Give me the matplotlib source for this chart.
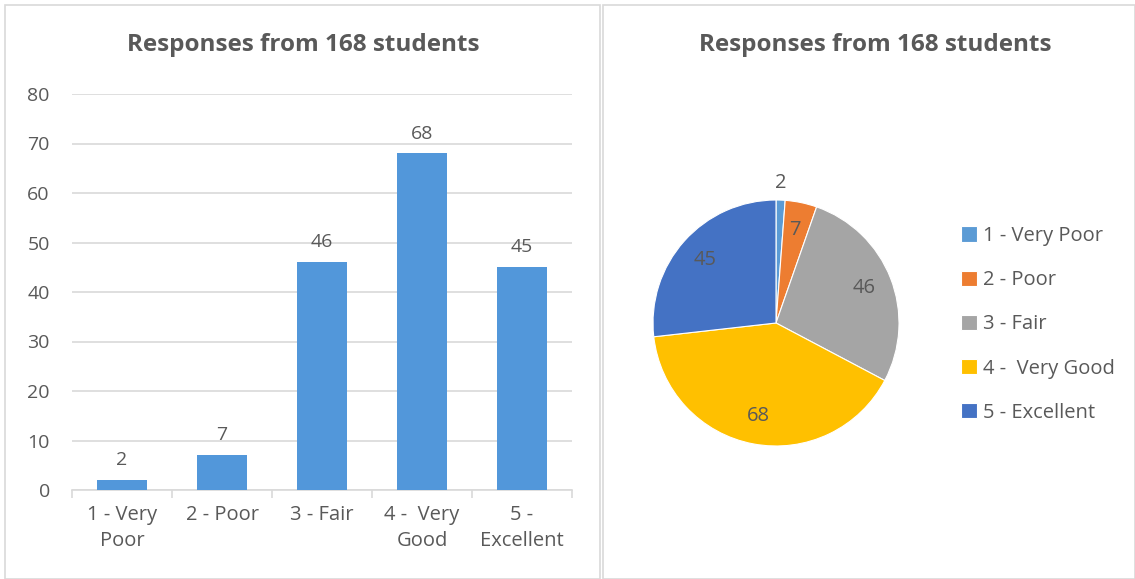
import matplotlib
matplotlib.use("Agg")
import matplotlib.pyplot as plt
from matplotlib.patches import Rectangle
import numpy as np

# data
categories = ["1 - Very Poor", "2 - Poor", "3 - Fair", "4 -  Very Good", "5 - Excellent"]
tick_labels = ["1 - Very\nPoor", "2 - Poor", "3 - Fair", "4 -  Very\nGood", "5 -\nExcellent"]
responses = [2, 7, 46, 68, 45]
title = "Responses from 168 students"

plt.rcParams['font.family'] = ['Open Sans', 'DejaVu Sans']
txt = "#595959"
pie_colors = ["#5B9BD5", "#ED7D31", "#A5A5A5", "#FFC000", "#4472C4"]

fig = plt.figure(figsize=(11.35, 5.79), dpi=100)
W, H = 1135, 579

# chart frames
for x0, x1 in [(5, 600), (603, 1135)]:
    fig.patches.append(Rectangle((x0 / W, 0), (x1 - x0) / W, (H - 5) / H,
                                 transform=fig.transFigure, fill=False,
                                 edgecolor="#d9d9d9", linewidth=1.2))

# bar chart
ax = fig.add_axes([72 / W, 1 - 490 / H, 500 / W, (490 - 94) / H])
x = np.arange(len(responses))
ax.bar(x, responses, width=0.5, color="#5297DA", zorder=3)
for xi, v in zip(x, responses):
    ax.text(xi, v + 2.2, str(v), ha="center", va="bottom", fontsize=14, color=txt)
ax.set_xlim(-0.5, 4.5)
ax.set_ylim(0, 80)
ax.set_yticks(range(0, 81, 10))
ax.yaxis.grid(True, color="#d9d9d9", linewidth=1.2, zorder=0)
for s in ["top", "right", "left"]:
    ax.spines[s].set_visible(False)
ax.spines["bottom"].set_color("#d9d9d9")
ax.spines["bottom"].set_linewidth(1.2)
ax.tick_params(axis="y", length=0, labelsize=14, labelcolor=txt, pad=16)
ax.set_xticks(np.arange(-0.5, 5, 1))
ax.set_xticklabels([])
ax.set_xticks(x, minor=True)
ax.set_xticklabels(tick_labels, minor=True, fontsize=14.5, color=txt, linespacing=1.35)
ax.tick_params(axis="x", which="major", length=6, color="#d9d9d9", width=1.2)
ax.tick_params(axis="x", which="minor", length=0, pad=11)
fig.text(303 / W, 1 - 45 / H, title, ha="center", va="center",
         fontsize=17.5, fontweight="bold", color=txt)

# pie chart
R = 123
pax = fig.add_axes([(776 - R) / W, 1 - (323 + R) / H, 2 * R / W, 2 * R / H])
wedges, _ = pax.pie(responses, colors=pie_colors, startangle=90, counterclock=False,
                    wedgeprops=dict(linewidth=0.8, edgecolor="white"))
pax.set_aspect("auto")
pax.set_xlim(-1, 1)
pax.set_ylim(-1, 1)
for w, v in zip(wedges, responses):
    ang = np.deg2rad((w.theta1 + w.theta2) / 2)
    d = 1.14 if v < 5 else 0.77
    pax.text(d * np.cos(ang), d * np.sin(ang), str(v), ha="center", va="center",
             fontsize=14.5, color=txt)
fig.text(875 / W, 1 - 45 / H, title, ha="center", va="center",
         fontsize=17.5, fontweight="bold", color=txt)
leg = fig.legend(wedges, categories, loc="upper left", bbox_to_anchor=(943 / W, 1 - 208 / H),
                 frameon=False, fontsize=14.5, labelcolor=txt, handlelength=0.8,
                 handleheight=0.8, handletextpad=0.3, labelspacing=1.2)

fig.savefig("out.png", dpi=100)
